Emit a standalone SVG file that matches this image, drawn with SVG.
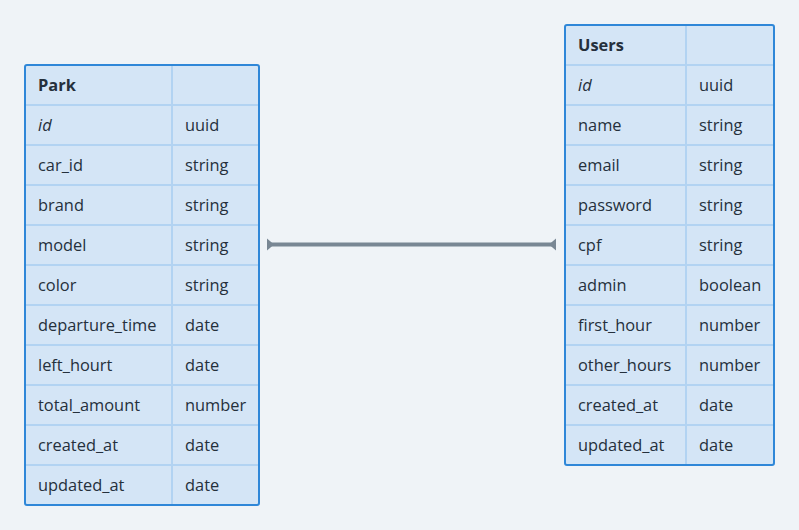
<svg xmlns="http://www.w3.org/2000/svg" width="799" height="530" viewBox="0 0 799 530">
<style>
text{font-family:"Open Sans","Noto Sans",sans-serif;font-size:16.4px;fill:#25303c}
.h{font-weight:bold}
.i{font-style:italic}
.box{fill:#d4e5f6;stroke:#2f87d8;stroke-width:2}
.in{stroke:#b2d3f2;stroke-width:2;fill:none}
</style>
<rect width="799" height="530" fill="#eff3f7"/>
<g id="connectors">
<line x1="269" y1="244.5" x2="554" y2="244.5" stroke="#798794" stroke-width="4"/>
<polygon points="267,238.5 267,250.5 274,244.5" fill="#798794"/>
<polygon points="556,238.5 556,250.5 549,244.5" fill="#798794"/>
</g>
<g id="park">
<rect class="box" x="25" y="65" width="234" height="440" rx="2"/>
<path class="in" d="M26 105H258M26 145H258M26 185H258M26 225H258M26 265H258M26 305H258M26 345H258M26 385H258M26 425H258M26 465H258M172 66V504"/>
<text x="38" y="91" class="h">Park</text>
<text x="38" y="131" class="i">id</text><text x="185" y="131">uuid</text>
<text x="38" y="171">car_id</text><text x="185" y="171">string</text>
<text x="38" y="211">brand</text><text x="185" y="211">string</text>
<text x="38" y="251">model</text><text x="185" y="251">string</text>
<text x="38" y="291">color</text><text x="185" y="291">string</text>
<text x="38" y="331">departure_time</text><text x="185" y="331">date</text>
<text x="38" y="371">left_hourt</text><text x="185" y="371">date</text>
<text x="38" y="411">total_amount</text><text x="185" y="411">number</text>
<text x="38" y="451">created_at</text><text x="185" y="451">date</text>
<text x="38" y="491">updated_at</text><text x="185" y="491">date</text>
</g>
<g id="users">
<rect class="box" x="565" y="25" width="209" height="440" rx="2"/>
<path class="in" d="M566 65H773M566 105H773M566 145H773M566 185H773M566 225H773M566 265H773M566 305H773M566 345H773M566 385H773M566 425H773M686 26V464"/>
<text x="578" y="51" class="h">Users</text>
<text x="578" y="91" class="i">id</text><text x="699" y="91">uuid</text>
<text x="578" y="131">name</text><text x="699" y="131">string</text>
<text x="578" y="171">email</text><text x="699" y="171">string</text>
<text x="578" y="211">password</text><text x="699" y="211">string</text>
<text x="578" y="251">cpf</text><text x="699" y="251">string</text>
<text x="578" y="291">admin</text><text x="699" y="291">boolean</text>
<text x="578" y="331">first_hour</text><text x="699" y="331">number</text>
<text x="578" y="371">other_hours</text><text x="699" y="371">number</text>
<text x="578" y="411">created_at</text><text x="699" y="411">date</text>
<text x="578" y="451">updated_at</text><text x="699" y="451">date</text>
</g>
</svg>
